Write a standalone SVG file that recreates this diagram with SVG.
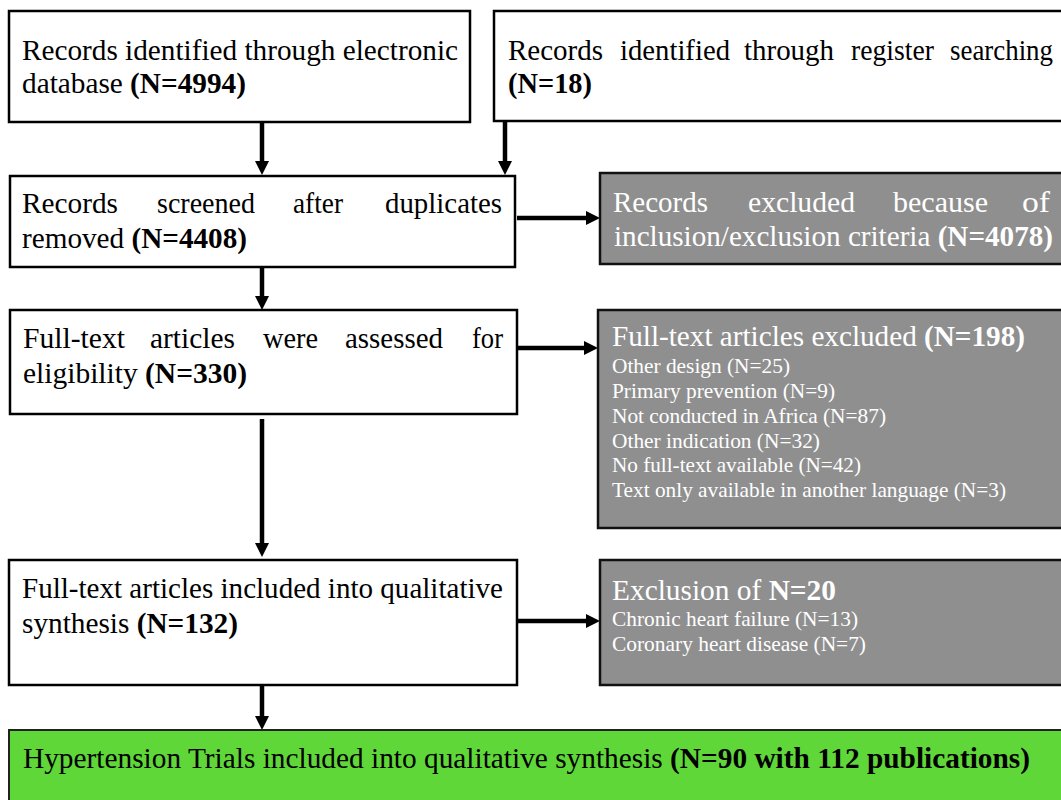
<svg xmlns="http://www.w3.org/2000/svg" width="1061" height="800" viewBox="0 0 1061 800">
<defs>
<style>
.box{fill:#fff;stroke:#000;stroke-width:2.5}
.gbox{fill:#8f8f8f;stroke:#111;stroke-width:2.5}
.green{fill:#5fd738;stroke:#222;stroke-width:2}
.t{font-family:"Liberation Serif","Times New Roman",serif;font-size:29px;fill:#000}
.w{font-family:"Liberation Serif","Times New Roman",serif;font-size:29px;fill:#fff}
.s{font-family:"Liberation Serif","Times New Roman",serif;font-size:21px;fill:#fff}
.b{font-weight:bold}
.arr{stroke:#000;stroke-width:4.5;fill:none;marker-end:url(#ah)}
</style>
<marker id="ah" markerUnits="userSpaceOnUse" markerWidth="15" markerHeight="15" refX="6" refY="7" orient="auto" viewBox="0 0 15 14">
<path d="M0,0 L14,7 L0,14 z" fill="#000"/>
</marker>
</defs>
<rect width="1061" height="800" fill="#fff"/>

<g id="connectors">
<path class="arr" d="M262,122 V167"/>
<path class="arr" d="M505,121 V167"/>
<path class="arr" d="M517,218 H592"/>
<path class="arr" d="M262,267 V302"/>
<path class="arr" d="M517,348 H590"/>
<path class="arr" d="M262,419 V549"/>
<path class="arr" d="M517,621 H592"/>
<path class="arr" d="M262,685 V722"/>
</g>

<g id="n1">
<rect class="box" x="9" y="11" width="461" height="111"/>
<text class="t" x="22" y="60" textLength="436" lengthAdjust="spacingAndGlyphs">Records identified through electronic</text>
<text class="t" x="22" y="93" textLength="224" lengthAdjust="spacingAndGlyphs">database <tspan class="b">(N=4994)</tspan></text>
</g>

<g id="n2">
<rect class="box" x="494" y="11" width="580" height="110"/>
<text class="t" y="60"><tspan x="508" textLength="95" lengthAdjust="spacingAndGlyphs">Records</tspan> <tspan x="620" textLength="110" lengthAdjust="spacingAndGlyphs">identified</tspan> <tspan x="744" textLength="90" lengthAdjust="spacingAndGlyphs">through</tspan> <tspan x="851" textLength="83" lengthAdjust="spacingAndGlyphs">register</tspan> <tspan x="950" textLength="103" lengthAdjust="spacingAndGlyphs">searching</tspan></text>
<text class="t b" x="508" y="93" textLength="84" lengthAdjust="spacingAndGlyphs">(N=18)</text>
</g>

<g id="n3">
<rect class="box" x="10" y="176" width="505" height="91"/>
<text class="t" y="213"><tspan x="22" textLength="96" lengthAdjust="spacingAndGlyphs">Records</tspan> <tspan x="157" textLength="98" lengthAdjust="spacingAndGlyphs">screened</tspan> <tspan x="293" textLength="50" lengthAdjust="spacingAndGlyphs">after</tspan> <tspan x="385" textLength="117" lengthAdjust="spacingAndGlyphs">duplicates</tspan></text>
<text class="t" x="22" y="248" textLength="225" lengthAdjust="spacingAndGlyphs">removed <tspan class="b">(N=4408)</tspan></text>
</g>

<g id="n4">
<rect class="gbox" x="600" y="173" width="474" height="91"/>
<text class="w" y="212"><tspan x="613" textLength="95" lengthAdjust="spacingAndGlyphs">Records</tspan> <tspan x="748" textLength="107" lengthAdjust="spacingAndGlyphs">excluded</tspan> <tspan x="893" textLength="95" lengthAdjust="spacingAndGlyphs">because</tspan> <tspan x="1022" textLength="28" lengthAdjust="spacingAndGlyphs">of</tspan></text>
<text class="w" x="614" y="246" textLength="439" lengthAdjust="spacingAndGlyphs">inclusion/exclusion criteria <tspan class="b">(N=4078)</tspan></text>
</g>

<g id="n5">
<rect class="box" x="10" y="310" width="507" height="104"/>
<text class="t" y="348"><tspan x="23" textLength="102" lengthAdjust="spacingAndGlyphs">Full-text</tspan> <tspan x="150" textLength="85" lengthAdjust="spacingAndGlyphs">articles</tspan> <tspan x="263" textLength="55" lengthAdjust="spacingAndGlyphs">were</tspan> <tspan x="345" textLength="98" lengthAdjust="spacingAndGlyphs">assessed</tspan> <tspan x="472" textLength="31" lengthAdjust="spacingAndGlyphs">for</tspan></text>
<text class="t" x="23" y="383" textLength="224" lengthAdjust="spacingAndGlyphs">eligibility <tspan class="b">(N=330)</tspan></text>
</g>

<g id="n6">
<rect class="gbox" x="598" y="310" width="476" height="218"/>
<text class="w" x="612" y="346" textLength="413" lengthAdjust="spacingAndGlyphs">Full-text articles excluded <tspan class="b">(N=198)</tspan></text>
<text class="s" x="612" y="373" textLength="178" lengthAdjust="spacingAndGlyphs">Other design (N=25)</text>
<text class="s" x="612" y="398" textLength="223" lengthAdjust="spacingAndGlyphs">Primary prevention (N=9)</text>
<text class="s" x="612" y="423" textLength="274" lengthAdjust="spacingAndGlyphs">Not conducted in Africa (N=87)</text>
<text class="s" x="612" y="448" textLength="208" lengthAdjust="spacingAndGlyphs">Other indication (N=32)</text>
<text class="s" x="612" y="472" textLength="249" lengthAdjust="spacingAndGlyphs">No full-text available (N=42)</text>
<text class="s" x="612" y="497" textLength="394" lengthAdjust="spacingAndGlyphs">Text only available in another language (N=3)</text>
</g>

<g id="n7">
<rect class="box" x="9" y="560" width="508" height="125"/>
<text class="t" x="22" y="598" textLength="481" lengthAdjust="spacingAndGlyphs">Full-text articles included into qualitative</text>
<text class="t" x="22" y="633" textLength="216" lengthAdjust="spacingAndGlyphs">synthesis <tspan class="b">(N=132)</tspan></text>
</g>

<g id="n8">
<rect class="gbox" x="600" y="560" width="474" height="125"/>
<text class="w" x="612" y="600" textLength="224" lengthAdjust="spacingAndGlyphs">Exclusion of <tspan class="b">N=20</tspan></text>
<text class="s" x="612" y="626" textLength="246" lengthAdjust="spacingAndGlyphs">Chronic heart failure (N=13)</text>
<text class="s" x="612" y="651" textLength="254" lengthAdjust="spacingAndGlyphs">Coronary heart disease (N=7)</text>
</g>

<g id="n9">
<rect class="green" x="9" y="730" width="1065" height="80"/>
<text class="t" x="23" y="768" textLength="1007" lengthAdjust="spacingAndGlyphs">Hypertension Trials included into qualitative synthesis <tspan class="b">(N=90 with 112 publications)</tspan></text>
</g>
</svg>
